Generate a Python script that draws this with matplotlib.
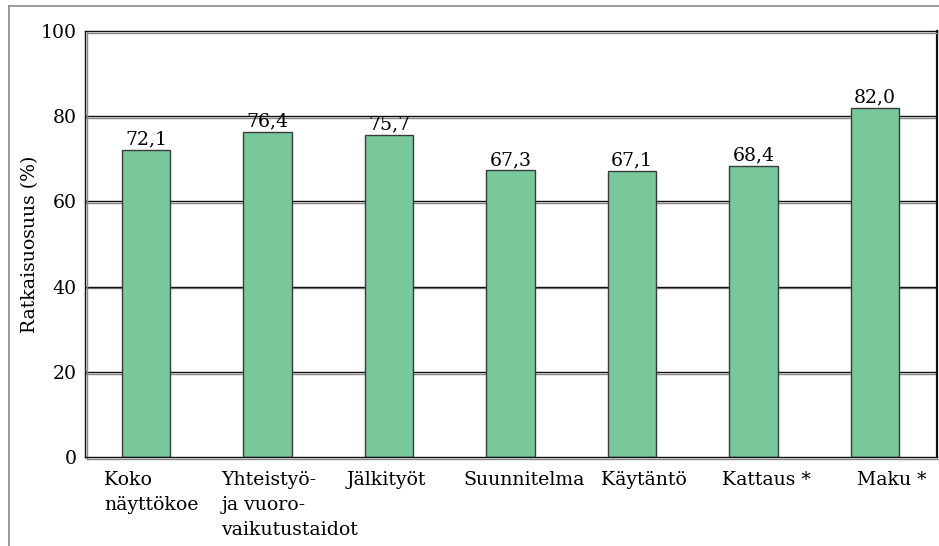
import numpy as np
import matplotlib
matplotlib.use("Agg")
import matplotlib.pyplot as plt
import matplotlib.patheffects as pe
from matplotlib.lines import Line2D
from matplotlib.transforms import offset_copy

# data
categories = ["Koko\nnäyttökoe", "Yhteistyö-\nja vuoro-\nvaikutustaidot", "Jälkityöt",
              "Suunnitelma", "Käytäntö", "Kattaus *", "Maku *"]
values = [72.1, 76.4, 75.7, 67.3, 67.1, 68.4, 82.0]
yticks = [0, 20, 40, 60, 80, 100]

# per-label horizontal nudges (px) and alignment, to mimic the original layout
label_dx = [-42, -46, -42, -47, 12, 13, 17]
label_ha = ["left", "left", "left", "left", "center", "center", "center"]

plt.rcParams['font.family'] = ['DejaVu Serif']
fs = 13.6

fig = plt.figure(figsize=(9.39, 5.46), dpi=100)
ax = fig.add_axes([85/939, 1-457/546, (937-85)/939, (457-31)/546])

x = np.arange(len(values))
shadow = [pe.SimpleLineShadow(offset=(0, -1.3), shadow_color='#888888', alpha=1), pe.Normal()]
for t in yticks[1:-1]:
    ax.axhline(t, color='#111111', lw=1.0, zorder=1, path_effects=shadow)

bars = ax.bar(x, values, width=0.4, color='#78C89B', edgecolor='#3a3a3a', linewidth=1.0, zorder=2)
for xi, v in zip(x, values):
    ax.annotate(f"{v:.1f}".replace('.', ','), (xi, v), xytext=(0, 1.0), textcoords='offset points',
                ha='center', va='bottom', fontsize=fs)

ax.set_xlim(-0.502, 6.51)
ax.set_ylim(0, 100)
ax.set_yticks(yticks)
ax.set_yticklabels([str(t) for t in yticks], fontsize=fs)
ax.tick_params(axis='y', length=0, pad=6)
ax.set_xticks([])
# category labels, one text per line
for xi, lab, dx, ha in zip(x, categories, label_dx, label_ha):
    for i, line in enumerate(lab.split("\n")):
        tr = offset_copy(ax.get_xaxis_transform(), fig=fig, x=dx, y=-28 - 25 * i, units='dots')
        ax.text(xi, 0, line, transform=tr, ha=ha, va='baseline', fontsize=fs)

ax.set_ylabel("Ratkaisuosuus (%)", fontsize=fs, labelpad=1)

for side in ['left', 'top', 'bottom']:
    ax.spines[side].set_linewidth(1.0)
    ax.spines[side].set_color('#111111')
    ax.spines[side].set_path_effects([pe.SimpleLineShadow(offset=(1.3, -1.3), shadow_color='#888888', alpha=1), pe.Normal()])
ax.spines['right'].set_linewidth(1.6)
ax.spines['right'].set_color('#111111')

# outer frame (top and left only)
fig.add_artist(Line2D([9/939, 1], [1-6/546, 1-6/546], transform=fig.transFigure, color='#888888', lw=1.2))
fig.add_artist(Line2D([9/939, 9/939], [0, 1-6/546], transform=fig.transFigure, color='#888888', lw=1.2))

fig.savefig("out.png", dpi=100)
